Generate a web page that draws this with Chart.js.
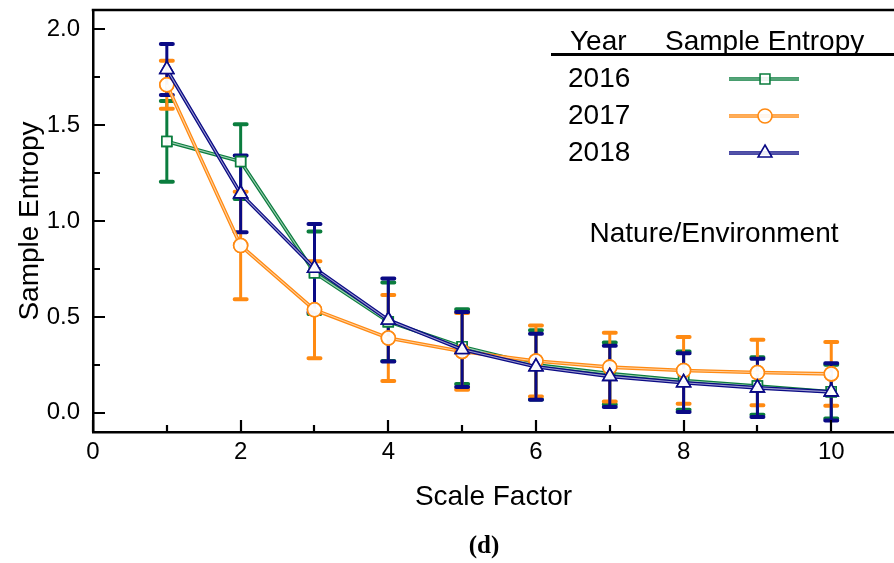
<!DOCTYPE html>
<html><head><meta charset="utf-8">
<script src="https://cdn.jsdelivr.net/npm/chart.js@4.4.1/dist/chart.umd.min.js"></script>
<style>html,body{margin:0;padding:0;background:#fff;overflow:hidden}</style>
</head><body>
<canvas id="c" width="894" height="563" style="width:894px;height:563px;display:block"></canvas>
<script>
// ---- data ----
const scaleFactors = [1, 2, 3, 4, 5, 6, 7, 8, 9, 10];
const years = ['2016', '2017', '2018'];
const mean2016 = [1.415, 1.31, 0.73, 0.475, 0.345, 0.25, 0.205, 0.168, 0.14, 0.11];
const sd2016   = [0.21, 0.195, 0.215, 0.205, 0.195, 0.18, 0.162, 0.152, 0.15, 0.14];
const mean2017 = [1.71, 0.872, 0.537, 0.39, 0.32, 0.27, 0.238, 0.221, 0.21, 0.203];
const sd2017   = [0.125, 0.28, 0.253, 0.224, 0.2, 0.185, 0.179, 0.174, 0.171, 0.166];
const mean2018 = [1.79, 1.142, 0.754, 0.484, 0.33, 0.24, 0.19, 0.157, 0.13, 0.109];
const sd2018   = [0.133, 0.2, 0.23, 0.216, 0.195, 0.172, 0.16, 0.153, 0.152, 0.149];
const yTicks = [0, 0.5, 1.0, 1.5, 2.0];
const yMinorTicks = [0.25, 0.75, 1.25, 1.75];
const xTicks = [0, 2, 4, 6, 8, 10];
const xMinorTicks = [1, 3, 5, 7, 9];
const legendHeader = ['Year', 'Sample Entropy'];
const annotationText = 'Nature/Environment';
const captionText = '(d)';

const FONT = "'Liberation Sans', Arial, sans-serif";
const colors = ['#0b7d3e', '#ff8a12', '#0a0a85'];
const styles = ['rect', 'circle', 'triangle'];
const means = [mean2016, mean2017, mean2018];
const sds = [sd2016, sd2017, sd2018];

function pts(m) { return scaleFactors.map((x, i) => ({x: x, y: m[i]})); }

const datasets = years.map((yr, k) => ({
  label: yr,
  data: pts(means[k]),
  borderColor: colors[k],
  borderWidth: 3.6,
  backgroundColor: colors[k],
  pointStyle: styles[k],
  pointRadius: k === 2 ? 8 : 7,
  pointBorderWidth: 1.6,
  pointBorderColor: colors[k],
  pointBackgroundColor: 'rgba(255,255,255,0.8)',
  tension: 0,
  order: 2 - k,
  sdData: sds[k]
}));

const errorBars = {
  id: 'errorBars',
  beforeDatasetsDraw(chart) {
    const ctx = chart.ctx, xs = chart.scales.x, ys = chart.scales.y;
    chart.data.datasets.forEach((ds) => {
      ctx.save();
      ctx.strokeStyle = ds.borderColor;
      ds.data.forEach((p, i) => {
        const sd = ds.sdData[i];
        const px = xs.getPixelForValue(p.x);
        const top = ys.getPixelForValue(p.y + sd);
        const bot = ys.getPixelForValue(p.y - sd);
        ctx.lineWidth = 3;
        ctx.beginPath(); ctx.moveTo(px, top); ctx.lineTo(px, bot); ctx.stroke();
        ctx.lineWidth = 4;
        ctx.lineCap = 'round';
        ctx.beginPath();
        ctx.moveTo(px - 6, top); ctx.lineTo(px + 6, top);
        ctx.moveTo(px - 6, bot); ctx.lineTo(px + 6, bot);
        ctx.stroke();
        ctx.lineCap = 'butt';
      });
      ctx.restore();
    });
  }
};

// give each connecting line the light "double stroke" look, then redraw its markers on top
const doubleLine = {
  id: 'doubleLine',
  afterDatasetDraw(chart, args) {
    const meta = args.meta, ctx = chart.ctx;
    const els = meta.data;
    if (!els || els.length < 2) return;
    ctx.save();
    ctx.strokeStyle = 'rgba(255,255,255,0.6)';
    ctx.lineWidth = 1.1;
    ctx.beginPath();
    els.forEach((el, i) => { if (i === 0) ctx.moveTo(el.x, el.y); else ctx.lineTo(el.x, el.y); });
    ctx.stroke();
    ctx.restore();
    els.forEach(el => el.draw(ctx, chart.chartArea));
  }
};

const decorations = {
  id: 'decorations',
  afterDraw(chart) {
    const ctx = chart.ctx, xs = chart.scales.x, ys = chart.scales.y;
    const area = chart.chartArea;
    ctx.save();
    // top frame line
    ctx.strokeStyle = '#000';
    ctx.lineWidth = 2.5;
    ctx.beginPath(); ctx.moveTo(area.left - 1.25, area.top); ctx.lineTo(area.right, area.top); ctx.stroke();
    // inward ticks
    ctx.lineWidth = 2.2;
    ctx.beginPath();
    yTicks.forEach(v => { const y = Math.round(ys.getPixelForValue(v)); ctx.moveTo(area.left, y); ctx.lineTo(area.left + 12, y); });
    yMinorTicks.forEach(v => { const y = Math.round(ys.getPixelForValue(v)); ctx.moveTo(area.left, y); ctx.lineTo(area.left + 7, y); });
    xTicks.forEach(v => { const x = Math.round(xs.getPixelForValue(v)); ctx.moveTo(x, area.bottom); ctx.lineTo(x, area.bottom - 12); });
    xMinorTicks.forEach(v => { const x = Math.round(xs.getPixelForValue(v)); ctx.moveTo(x, area.bottom); ctx.lineTo(x, area.bottom - 7); });
    ctx.stroke();

    // legend table
    ctx.fillStyle = '#000';
    ctx.font = '28px ' + FONT;
    ctx.textBaseline = 'middle';
    ctx.textAlign = 'left';
    ctx.fillText(legendHeader[0], 570, 42);
    ctx.fillText(legendHeader[1], 665, 42);
    ctx.lineWidth = 2.8;
    ctx.beginPath(); ctx.moveTo(551, 54.5); ctx.lineTo(894, 54.5); ctx.stroke();
    const rowY = [79, 116, 153];
    chart.data.datasets.forEach((ds, k) => {
      ctx.fillStyle = '#000';
      ctx.fillText(ds.label, 568, rowY[k]);
      ctx.strokeStyle = ds.borderColor;
      ctx.lineWidth = 3.6;
      ctx.beginPath(); ctx.moveTo(729, rowY[k]); ctx.lineTo(799, rowY[k]); ctx.stroke();
      ctx.strokeStyle = 'rgba(255,255,255,0.6)';
      ctx.lineWidth = 1.1;
      ctx.beginPath(); ctx.moveTo(729, rowY[k]); ctx.lineTo(799, rowY[k]); ctx.stroke();
      ctx.strokeStyle = ds.borderColor;
      ctx.fillStyle = 'rgba(255,255,255,0.9)';
      ctx.lineWidth = 1.6;
      Chart.helpers.drawPoint(ctx, {pointStyle: ds.pointStyle, radius: ds.pointRadius, rotation: 0, borderWidth: 1.6}, 765, rowY[k]);
    });

    // annotation
    ctx.fillStyle = '#000';
    ctx.font = '28px ' + FONT;
    ctx.textAlign = 'center';
    ctx.fillText(annotationText, 714, 234);

    // caption
    ctx.font = "bold 25px 'Liberation Serif', 'Times New Roman', serif";
    ctx.fillText(captionText, 484, 547);
    ctx.restore();
  }
};

new Chart(document.getElementById('c'), {
  type: 'line',
  data: { datasets: datasets },
  options: {
    responsive: false,
    animation: false,
    devicePixelRatio: 1,
    layout: { autoPadding: false, padding: { left: 13, top: 10, right: 0, bottom: 49 } },
    plugins: { legend: { display: false }, tooltip: { enabled: false } },
    scales: {
      x: {
        type: 'linear',
        min: 0, max: 10.85,
        afterBuildTicks: s => { s.ticks = xTicks.map(v => ({value: v})); },
        afterFit: s => { s.height = 82; s.paddingLeft = 0; s.paddingRight = 0; s.paddingTop = 0; s.paddingBottom = 0; },
        grid: { display: false, drawTicks: false },
        border: { display: true, color: '#000', width: 2.5 },
        ticks: { color: '#000', font: { size: 24, family: FONT }, padding: 6, maxRotation: 0,
                 callback: v => String(v) },
        title: { display: true, text: 'Scale Factor', color: '#000',
                 font: { size: 28, family: FONT }, padding: { top: 13, bottom: 0 } }
      },
      y: {
        type: 'linear',
        min: -0.1, max: 2.1,
        afterBuildTicks: s => { s.ticks = yTicks.map(v => ({value: v})); },
        afterFit: s => { s.width = 80; s.paddingLeft = 0; s.paddingRight = 0; s.paddingTop = 0; s.paddingBottom = 0; },
        grid: { display: false, drawTicks: false },
        border: { display: true, color: '#000', width: 2.5 },
        ticks: { color: '#000', font: { size: 24, family: FONT }, padding: 13,
                 callback: v => Number(v).toFixed(1) },
        title: { display: true, text: 'Sample Entropy', color: '#000',
                 font: { size: 28, family: FONT }, padding: { top: 0, bottom: 0 } }
      }
    }
  },
  plugins: [errorBars, doubleLine, decorations]
});
</script>
</body></html>
